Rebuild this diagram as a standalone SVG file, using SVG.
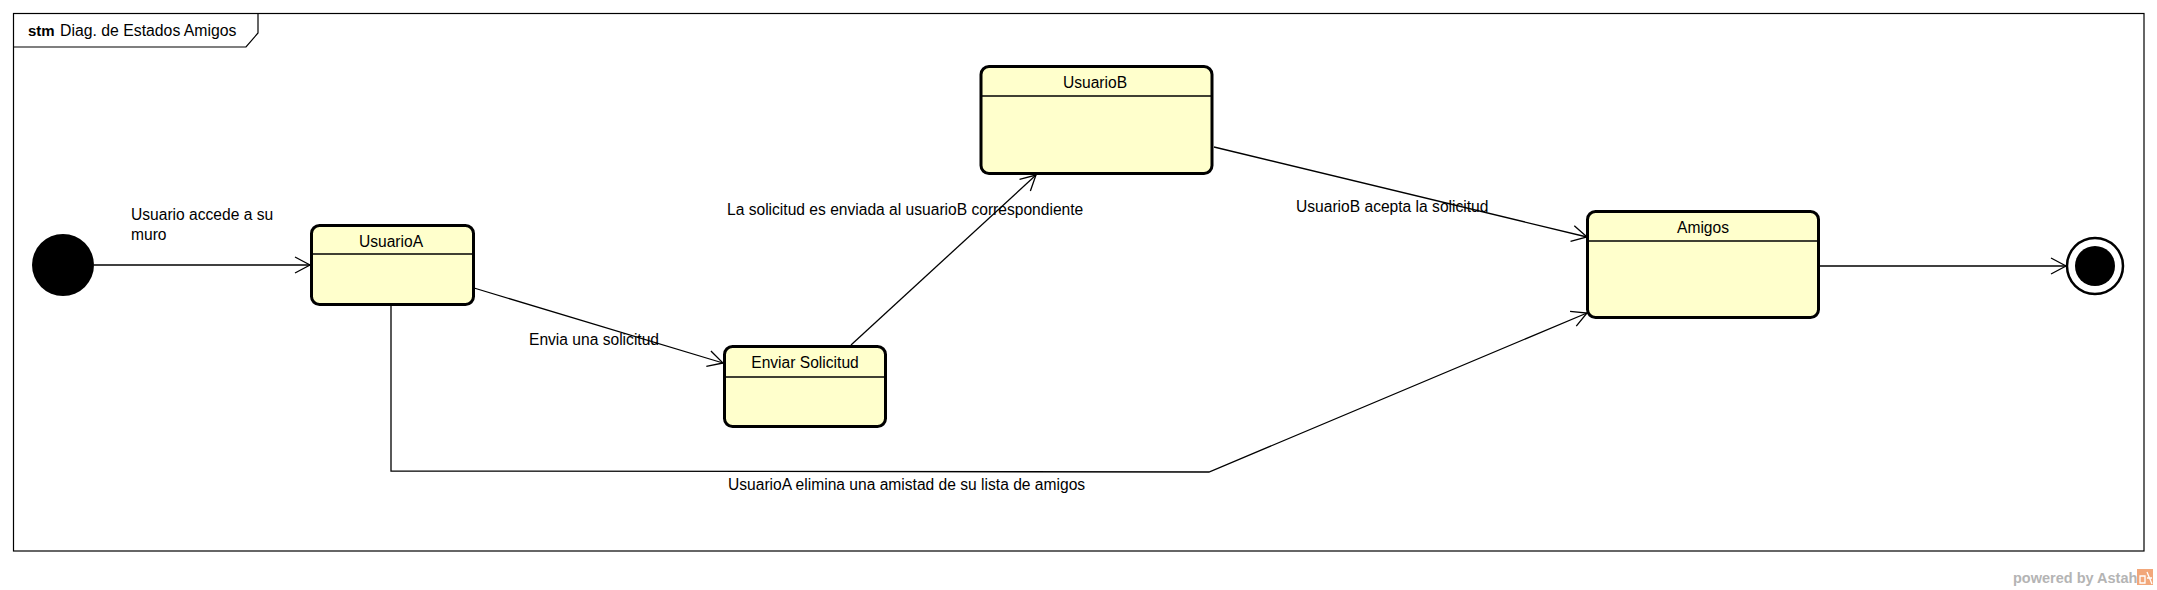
<svg xmlns="http://www.w3.org/2000/svg" width="2157" height="590" viewBox="0 0 2157 590">
  <defs>
    <style>
      .state { fill: #ffffcc; stroke: #000; stroke-width: 3; }
      .div { stroke: #000; stroke-width: 1.5; }
      .lbl { font-family: "Liberation Sans", Arial, sans-serif; font-size: 15.6px; fill: #000; }
      .name { font-family: "Liberation Sans", Arial, sans-serif; font-size: 15.6px; fill: #000; text-anchor: middle; }
      .conn { fill: none; stroke: #000; stroke-width: 1.3; }
    </style>
    <marker id="arrow" markerUnits="userSpaceOnUse" markerWidth="20" markerHeight="20" viewBox="-17 -10 19 20" refX="0" refY="0" orient="auto">
      <path d="M-15,-8 L0,0 L-15,8" fill="none" stroke="#000" stroke-width="1.3"/>
    </marker>
  </defs>
  <rect width="2157" height="590" fill="#fff"/>

  <g id="frame">
    <rect x="13.5" y="13.5" width="2130.5" height="537.5" fill="none" stroke="#000" stroke-width="1.2"/>
    <path d="M13.5,47 L246,47 L258,33 L258,13.5" fill="none" stroke="#000" stroke-width="1.2"/>
    <text x="28" y="36" font-family="'Liberation Sans', Arial, sans-serif" font-size="15" font-weight="bold">stm</text>
    <text x="60" y="36" font-family="'Liberation Sans', Arial, sans-serif" font-size="15.8">Diag. de Estados Amigos</text>
  </g>

  <g id="connectors">
    <line class="conn" x1="94" y1="265" x2="310" y2="265" marker-end="url(#arrow)"/>
    <line class="conn" x1="474" y1="288" x2="723" y2="363" marker-end="url(#arrow)"/>
    <line class="conn" x1="851" y1="345" x2="1036" y2="175" marker-end="url(#arrow)"/>
    <line class="conn" x1="1214" y1="147" x2="1587" y2="237" marker-end="url(#arrow)"/>
    <polyline class="conn" points="391,305 391,471 1209,472 1587,313" marker-end="url(#arrow)"/>
    <line class="conn" x1="1820" y1="266" x2="2066" y2="266" marker-end="url(#arrow)"/>
    <text class="lbl" x="131" y="220">Usuario accede a su</text>
    <text class="lbl" x="131" y="240">muro</text>
    <text class="lbl" x="529" y="345">Envia una solicitud</text>
    <text class="lbl" x="727" y="215">La solicitud es enviada al usuarioB correspondiente</text>
    <text class="lbl" x="1296" y="212">UsuarioB acepta la solicitud</text>
    <text class="lbl" x="728" y="490">UsuarioA elimina una amistad de su lista de amigos</text>
  </g>

  <g id="initial">
    <circle cx="63" cy="265" r="31" fill="#000"/>
  </g>

  <g id="usuarioA">
    <rect class="state" x="311.5" y="225.5" width="162" height="79" rx="8"/>
    <line class="div" x1="311.5" y1="254" x2="473.5" y2="254"/>
    <text class="name" x="391" y="247">UsuarioA</text>
  </g>

  <g id="enviarSolicitud">
    <rect class="state" x="724.5" y="346.5" width="161" height="80" rx="8"/>
    <line class="div" x1="724.5" y1="377" x2="885.5" y2="377"/>
    <text class="name" x="805" y="368">Enviar Solicitud</text>
  </g>

  <g id="usuarioB">
    <rect class="state" x="981" y="66.5" width="231" height="107" rx="8"/>
    <line class="div" x1="981" y1="96" x2="1212" y2="96"/>
    <text class="name" x="1095" y="88">UsuarioB</text>
  </g>

  <g id="amigos">
    <rect class="state" x="1587.5" y="211.5" width="231" height="106" rx="8"/>
    <line class="div" x1="1587.5" y1="241" x2="1818.5" y2="241"/>
    <text class="name" x="1703" y="233">Amigos</text>
  </g>

  <g id="final">
    <circle cx="2095" cy="266" r="28" fill="#fff" stroke="#000" stroke-width="2.5"/>
    <circle cx="2095" cy="266" r="20" fill="#000"/>
  </g>

  <g id="watermark">
    <text x="2013" y="583" font-family="'Liberation Sans', Arial, sans-serif" font-size="14.5" font-weight="bold" fill="#b4b4b4">powered by Astah</text>
    <rect x="2137" y="569" width="16" height="16" fill="#f2a77a"/>
    <path d="M2140,576 L2145,576 L2145,583 L2140,583 Z M2147,572 L2152,584 M2147,578 L2152,578" fill="none" stroke="#fff" stroke-width="1.3"/>
  </g>
</svg>
